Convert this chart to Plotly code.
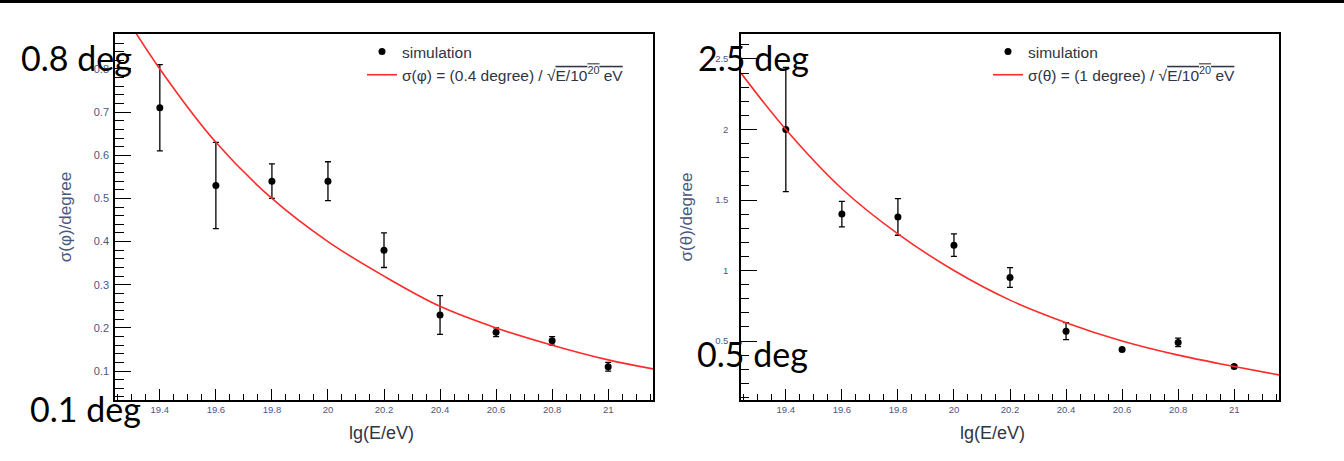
import plotly.graph_objects as go

# ---------------- data ----------------
lgE = [19.4, 19.6, 19.8, 20.0, 20.2, 20.4, 20.6, 20.8, 21.0]

sigma_phi = [0.71, 0.53, 0.54, 0.54, 0.38, 0.23, 0.19, 0.17, 0.11]
sigma_phi_err = [0.10, 0.10, 0.04, 0.045, 0.04, 0.045, 0.01, 0.01, 0.01]

sigma_theta = [2.00, 1.40, 1.38, 1.18, 0.95, 0.57, 0.44, 0.49, 0.32]
sigma_theta_err = [0.44, 0.09, 0.13, 0.08, 0.07, 0.06, 0.01, 0.03, 0.01]

# fitted curves
curve_x = [19.24, 19.4, 19.6, 19.8, 20.0, 20.2, 20.4, 20.6, 20.8, 21.0, 21.16]
curve_phi = [0.96, 0.80, 0.63, 0.50, 0.40, 0.32, 0.25, 0.20, 0.16, 0.126, 0.105]
curve_theta = [2.40, 2.00, 1.58, 1.26, 1.00, 0.79, 0.63, 0.50, 0.40, 0.32, 0.26]

x_tickvals = [19.4, 19.6, 19.8, 20.0, 20.2, 20.4, 20.6, 20.8, 21.0]
x_ticktext = ["19.4", "19.6", "19.8", "20", "20.2", "20.4", "20.6", "20.8", "21"]
phi_tickvals = [0.1, 0.2, 0.3, 0.4, 0.5, 0.6, 0.7, 0.8]
phi_ticktext = ["0.1", "0.2", "0.3", "0.4", "0.5", "0.6", "0.7", "0.8"]
theta_tickvals = [0.5, 1.0, 1.5, 2.0, 2.5]
theta_ticktext = ["0.5", "1", "1.5", "2", "2.5"]

W, H = 1344, 461
FONT = "Liberation Sans, Arial, sans-serif"
LABEL_COL = "#4a5880"
TEXT_COL = "#2f3545"

def px_x(p):
    return p / W

def px_y(p):
    return (H - p) / H

fig = go.Figure()

# left panel
fig.add_trace(go.Scatter(
    x=lgE, y=sigma_phi, mode="markers", name="simulation",
    marker=dict(color="black", size=7),
    error_y=dict(type="data", array=sigma_phi_err, color="black", thickness=1.3, width=3),
    xaxis="x", yaxis="y", legend="legend",
))
fig.add_trace(go.Scatter(
    x=curve_x, y=curve_phi, mode="lines", line_shape="spline",
    name="σ(φ) = (0.4 degree) / √<span style='text-decoration:overline'>E/10<sup>20</sup> eV</span>",
    line=dict(color="#ff2a2a", width=1.6),
    xaxis="x", yaxis="y", legend="legend",
))

# right panel
fig.add_trace(go.Scatter(
    x=lgE, y=sigma_theta, mode="markers", name="simulation",
    marker=dict(color="black", size=7),
    error_y=dict(type="data", array=sigma_theta_err, color="black", thickness=1.3, width=3),
    xaxis="x2", yaxis="y2", legend="legend2",
))
fig.add_trace(go.Scatter(
    x=curve_x, y=curve_theta, mode="lines", line_shape="spline",
    name="σ(θ) = (1 degree) / √<span style='text-decoration:overline'>E/10<sup>20</sup> eV</span>",
    line=dict(color="#ff2a2a", width=1.6),
    xaxis="x2", yaxis="y2", legend="legend2",
))

xdom1 = [px_x(115), px_x(653)]
xdom2 = [px_x(741), px_x(1279)]
ydom = [px_y(400), px_y(34)]

common_x = dict(
    range=[19.24, 21.16], showgrid=False, zeroline=False,
    showline=True, linecolor="black", linewidth=1.5, mirror=True,
    ticks="inside", ticklen=11, tickwidth=1.2, tickcolor="black",
    tickvals=x_tickvals, ticktext=x_ticktext,
    tickfont=dict(family=FONT, size=9.5, color=LABEL_COL),
    minor=dict(dtick=0.05, ticks="inside", ticklen=6, tickwidth=1, tickcolor="black", showgrid=False),
)

legend_common = dict(
    xanchor="left", yanchor="top",
    bgcolor="rgba(0,0,0,0)", borderwidth=0,
    font=dict(family=FONT, size=15.5, color=TEXT_COL),
    itemwidth=30, tracegroupgap=0,
)

fig.update_layout(
    width=W, height=H,
    margin=dict(l=0, r=0, t=0, b=0),
    paper_bgcolor="white", plot_bgcolor="white",
    font=dict(family=FONT, color=TEXT_COL),
    xaxis=dict(domain=xdom1, anchor="y", **common_x),
    xaxis2=dict(domain=xdom2, anchor="y2", **common_x),
    yaxis=dict(
        domain=ydom, anchor="x", range=[0.033, 0.881],
        showgrid=False, zeroline=False,
        showline=True, linecolor="black", linewidth=1.5, mirror=True,
        ticks="inside", ticklen=16, tickwidth=1.2, tickcolor="black",
        tickvals=phi_tickvals, ticktext=phi_ticktext,
        tickfont=dict(family=FONT, size=11, color=LABEL_COL),
        ticklabelstandoff=2,
        minor=dict(dtick=0.02, ticks="inside", ticklen=9, tickwidth=1, tickcolor="black", showgrid=False),
        title=dict(text="σ(φ)/degree", font=dict(family=FONT, size=17, color=LABEL_COL), standoff=18),
    ),
    yaxis2=dict(
        domain=ydom, anchor="x2", range=[0.082, 2.677],
        showgrid=False, zeroline=False,
        showline=True, linecolor="black", linewidth=1.5, mirror=True,
        ticks="inside", ticklen=16, tickwidth=1.2, tickcolor="black",
        tickvals=theta_tickvals, ticktext=theta_ticktext,
        tickfont=dict(family=FONT, size=9.5, color=LABEL_COL),
        ticklabelstandoff=9,
        minor=dict(dtick=0.1, ticks="inside", ticklen=8, tickwidth=1, tickcolor="black", showgrid=False),
        title=dict(text="σ(θ)/degree", font=dict(family=FONT, size=17, color=LABEL_COL), standoff=18),
    ),
    legend=dict(x=px_x(362), y=px_y(35), **legend_common),
    legend2=dict(x=px_x(988), y=px_y(35), **legend_common),
    showlegend=True,
)

# x axis titles
for cx in (381, 992):
    fig.add_annotation(
        x=px_x(cx), y=px_y(433), xref="paper", yref="paper",
        text="lg(E/eV)", showarrow=False, xanchor="center", yanchor="middle",
        font=dict(family=FONT, size=18, color=TEXT_COL),
    )

# overlaid slide labels
big = dict(family="Lato, sans-serif", size=34, color="black")
for txt, lx, cy in [("0.8 deg", 19, 57), ("0.1 deg", 28, 408), ("2.5 deg", 696, 57), ("0.5 deg", 695, 353)]:
    fig.add_annotation(
        x=px_x(lx), y=px_y(cy), xref="paper", yref="paper",
        text=txt, showarrow=False, xanchor="left", yanchor="middle",
        font=big,
    )

# black bar at very top of the slide
fig.add_shape(type="rect", xref="paper", yref="paper",
              x0=0, x1=1, y0=px_y(3), y1=1,
              fillcolor="black", line=dict(width=0), layer="above")

fig.write_html("out.html")
